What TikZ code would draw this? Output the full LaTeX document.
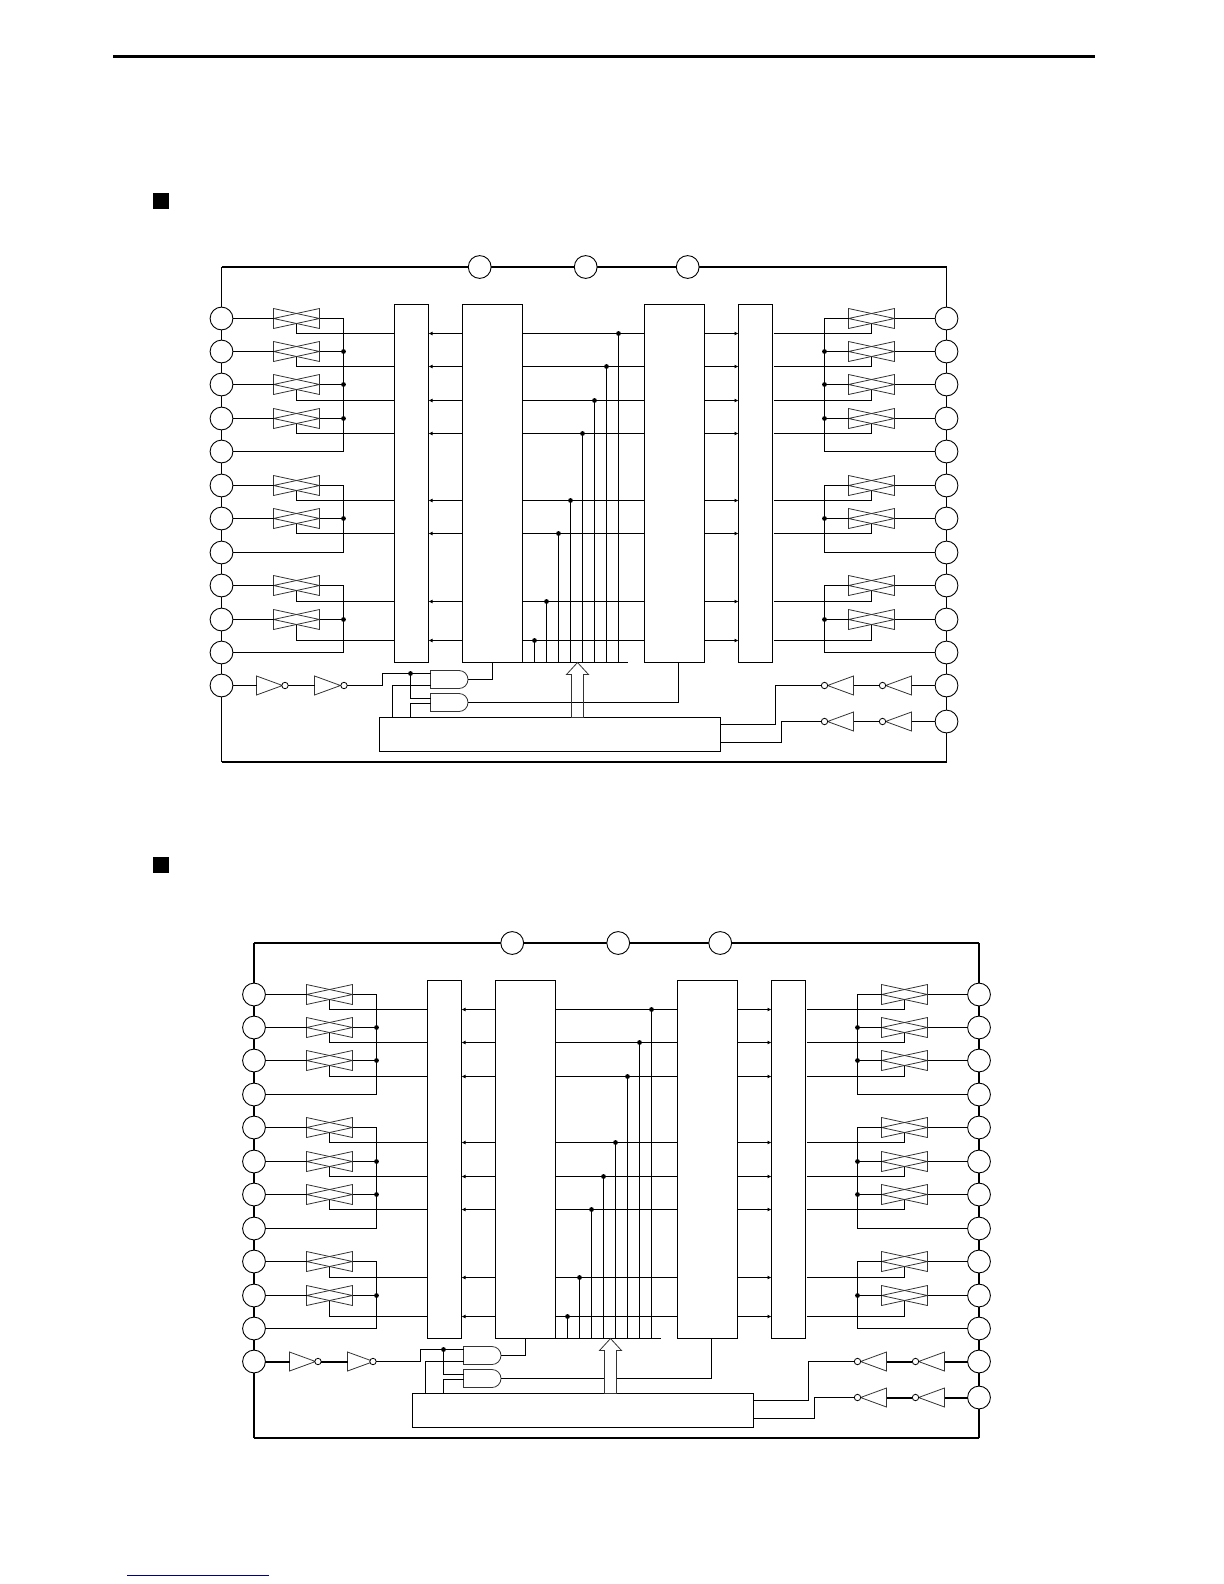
\documentclass[tikz,border=0pt]{standalone}
\usetikzlibrary{arrows.meta}
\tikzset{
	thinline/.style={line width=0.55pt},
	railline/.style={line width=1pt,line cap=square},
	padnode/.style={circle,draw,fill=white,line width=0.45pt,minimum size=11.4pt,inner sep=0pt,outer sep=0pt},
	blockbox/.style={draw,fill=white,thinline,inner sep=0pt,outer sep=0pt},
	blank/.style={inner sep=0pt,outer sep=0pt},
	gatebox/.style={blank,minimum width=23pt,minimum height=10pt},
	invbox/.style={blank,minimum width=13pt,minimum height=9.5pt},
	andbox/.style={blank,minimum width=18.75pt,minimum height=9pt},
	bubble/.style={circle,draw,fill=white,line width=0.4pt,minimum size=3.2pt,inner sep=0pt,outer sep=0pt},
	tapdot/.style={circle,fill=black,minimum size=2.4pt,inner sep=0pt,outer sep=0pt},
	tiparrow/.style={-{Latex[length=2pt,width=2pt]}},
	gateline/.style={line width=0.4pt,draw=black!80}
}
% #1 shift, #2 gate rows, #3 bus groups, #4 dotted rows, #5 second bubble x, #6 riser x, #7 pad line width, #8 fill of the wide arrow, #9 shift of frame and pads
\def\chipblock#1#2#3#4#5#6#7#8#9{
	\scope[shift={(#1)},thinline]
	\scope[xshift=#9]
	%outer frame
	\coordinate (frameNW) at (221.5,267);
	\coordinate (frameNE) at (946.5,267);
	\coordinate (frameSW) at (221.5,762);
	\coordinate (frameSE) at (946.5,762);
	\draw[railline] (frameNW) -- (frameNE);
	\draw[railline] (frameSW) -- (frameSE);
	\draw[line width=#7] (frameNW) -- (frameSW);
	\draw[line width=#7] (frameNE) -- (frameSE);
	
	%pads
	\node[padnode] (padT1) at (479.7,267){};
	\node[padnode] (padT2) at (585.7,267){};
	\node[padnode] (padT3) at (687.7,267){};
	\foreach \r [evaluate=\r as \y using floor(318+(\r-1)*33.45)+0.5] in {1,...,12}{
		\node[padnode] (padL\r) at (221.5,\y){};
		\node[padnode] (padR\r) at (946.5,\y){};
	}
	\node[padnode] (padR13) at (946.5,721.5){};
	\endscope
	
	%blocks
	\node[blockbox,minimum width=17pt,minimum height=179pt] (boxA) at (411.5,483.5){};
	\node[blockbox,minimum width=30pt,minimum height=179pt] (boxB) at (492.5,483.5){};
	\node[blockbox,minimum width=30pt,minimum height=179pt] (boxC) at (674.5,483.5){};
	\node[blockbox,minimum width=17pt,minimum height=179pt] (boxD) at (755.5,483.5){};
	\coordinate (railEnd) at (628,662.5);
	\draw (boxB.south east) -- (railEnd);
	
	\coordinate (busL) at (343.5,0);
	\coordinate (busR) at (824.5,0);
	
	%gates, their select lines and the taps
	\foreach \r/\c/\t [evaluate=\r as \y using floor(318+(\r-1)*33.45)+0.5] in {#2}{
		\coordinate (ctl\r) at (0,\c);
		\coordinate (tap\r) at (\t,662.5);
		\node[gatebox] (tgL\r) at (296.5,\y){};
		\node[gatebox] (tgR\r) at (871.5,\y){};
		\foreach \g in {tgL\r,tgR\r}{
			\draw[gateline] (\g.north west) -- (\g.east) -- (\g.south west) -- cycle;
			\draw[gateline] (\g.north east) -- (\g.west) -- (\g.south east) -- cycle;
		}
		\draw (padL\r.east) -- (tgL\r.west);
		\draw (padR\r.west) -- (tgR\r.east);
		\draw ([yshift=-2.5pt]tgL\r.center) |- (boxA.west |- ctl\r);
		\draw[shorten <=0.7pt] (boxD.east |- ctl\r) -| ([yshift=-2.5pt]tgR\r.center);
		\draw[tiparrow] (boxB.west |- ctl\r) -- (boxA.east |- ctl\r);
		\draw[tiparrow] (boxC.east |- ctl\r) -- (boxD.west |- ctl\r);
		\draw (boxB.east |- ctl\r) -- (boxC.west |- ctl\r);
		\draw (tap\r) -- (tap\r |- ctl\r);
		\node[tapdot] (tapDot\r) at (tap\r |- ctl\r){};
	}
	
	%common lines of the gate groups
	\foreach \a/\b in {#3}{
		\coordinate (endL\b) at (busL |- padL\b);
		\coordinate (endR\b) at (busR |- padR\b);
		\draw (tgL\a.east) -| (endL\b) -- (padL\b.east);
		\draw (tgR\a.west) -| (endR\b) -- (padR\b.west);
	}
	\foreach \r in {#4}{
		\node[tapdot] (dotL\r) at (busL |- padL\r){};
		\node[tapdot] (dotR\r) at (busR |- padR\r){};
		\draw (tgL\r.east) -- (dotL\r);
		\draw (tgR\r.west) -- (dotR\r);
	}
	
	%bottom control block
	\node[blockbox,minimum width=170.5pt,minimum height=17pt] (boxCtl) at (550,734.5){};
	\node[andbox] (andA) at (449.25,679.5){};
	\node[andbox] (andB) at (449.25,702.5){};
	\foreach \g in {andA,andB}{
		\draw[gateline] (\g.north west) -- ++(28.5,0) arc[start angle=90,end angle=-90,radius=4.5pt] -- (\g.south west) -- cycle;
	}
	\coordinate (downC) at (678.5,662.5);
	\draw (andA.east) -| (boxB.south);
	\draw (andB.east) -| (downC);
	\draw[gateline,fill=#8] (571.5,717.5) -- (571.5,674.5) -- (566.5,674.5) -- (577.5,662.5) -- (588.5,674.5) -- (583.5,674.5) -- (583.5,717.5) -- cycle;
	
	%input buffers
	\node[invbox] (invA) at (269.5,685.5){};
	\node[invbox] (invB) at (327.5,685.5){};
	\foreach \g in {invA,invB}{
		\draw[gateline] (\g.north west) -- (\g.east) -- (\g.south west) -- cycle;
	}
	\node[bubble] (bubA) at (285,685.5){};
	\node[bubble] (bubB) at (#5,685.5){};
	\draw[line width=#7] (padL12.east) -- (invA.west);
	\draw[line width=#7] (bubA.east) -- (invB.west);
	\coordinate (riseL) at (#6,673.5);
	\draw (bubB.east) -| (riseL) -- (riseL -| andA.west);
	\node[tapdot] (dotEn) at (410.5,673.5){};
	\coordinate (enB) at (410.5,698.5);
	\draw (dotEn) -- (enB) -- (enB -| andB.west);
	\coordinate (ctlA) at (392.5,685.5);
	\coordinate (ctlB) at (410.5,703.5);
	\draw (ctlA |- boxCtl.north) -- (ctlA) -- (ctlA -| andA.west);
	\draw (ctlB |- boxCtl.north) -- (ctlB) -- (ctlB -| andB.west);
	
	%output buffers
	\node[invbox] (invC) at (898.5,685.5){};
	\node[invbox] (invD) at (840.5,685.5){};
	\node[invbox] (invE) at (898.5,721.5){};
	\node[invbox] (invF) at (840.5,721.5){};
	\foreach \g in {invC,invD,invE,invF}{
		\draw[gateline] (\g.north east) -- (\g.west) -- (\g.south east) -- cycle;
	}
	\node[bubble] (bubC) at (882.5,685.5){};
	\node[bubble] (bubD) at (824.5,685.5){};
	\node[bubble] (bubE) at (882.5,721.5){};
	\node[bubble] (bubF) at (824.5,721.5){};
	\draw[line width=#7] (padR12.west) -- (invC.east);
	\draw[line width=#7] (padR13.west) -- (invE.east);
	\draw[line width=#7] (bubC.west) -- (invD.east);
	\draw[line width=#7] (bubE.west) -- (invF.east);
	\coordinate (riseD) at (775.5,724.5);
	\coordinate (riseF) at (781.5,742.5);
	\draw (bubD.west) -| (riseD) -- (riseD -| boxCtl.east);
	\draw (bubF.west) -| (riseF) -- (riseF -| boxCtl.east);
	\endscope
}

\begin{document}
\begin{tikzpicture}[x=0.5pt,y=-0.5pt]
	\useasboundingbox (0,0) rectangle (1224,1584);
	
	%page rules
	\coordinate (ruleL) at (113,56.5);
	\coordinate (ruleR) at (1095,56.5);
	\draw[line width=1.5pt] (ruleL) -- (ruleR);
	\coordinate (linkL) at (127,1575.5);
	\coordinate (linkR) at (269,1575.5);
	\draw[line width=0.6pt,blue!50!black] (linkL) -- (linkR);
	
	\node[fill=black,minimum size=8.1pt,inner sep=0pt] (headA) at (160.6,201){};
	\node[fill=black,minimum size=8.1pt,inner sep=0pt] (headB) at (160.6,864.6){};
	
	\chipblock{0,0}{1/333.5/618.5,2/366.5/606.5,3/400.5/594.5,4/433.5/582.5,6/500.5/570.5,7/533.5/558.5,9/601.5/546.5,10/640.5/534.5}{1/5,6/8,9/11}{2,3,4,7,10}{344}{382.5}{0.55pt}{none}{0pt}
	\chipblock{33,676}{1/333.5/618.5,2/366.5/606.5,3/400.5/594.5,5/466.5/582.5,6/500.5/570.5,7/533.5/558.5,9/601.5/546.5,10/640.5/534.5}{1/4,5/8,9/11}{2,3,6,7,10}{340}{387.5}{1pt}{white}{-0.25pt}
\end{tikzpicture}
\end{document}
